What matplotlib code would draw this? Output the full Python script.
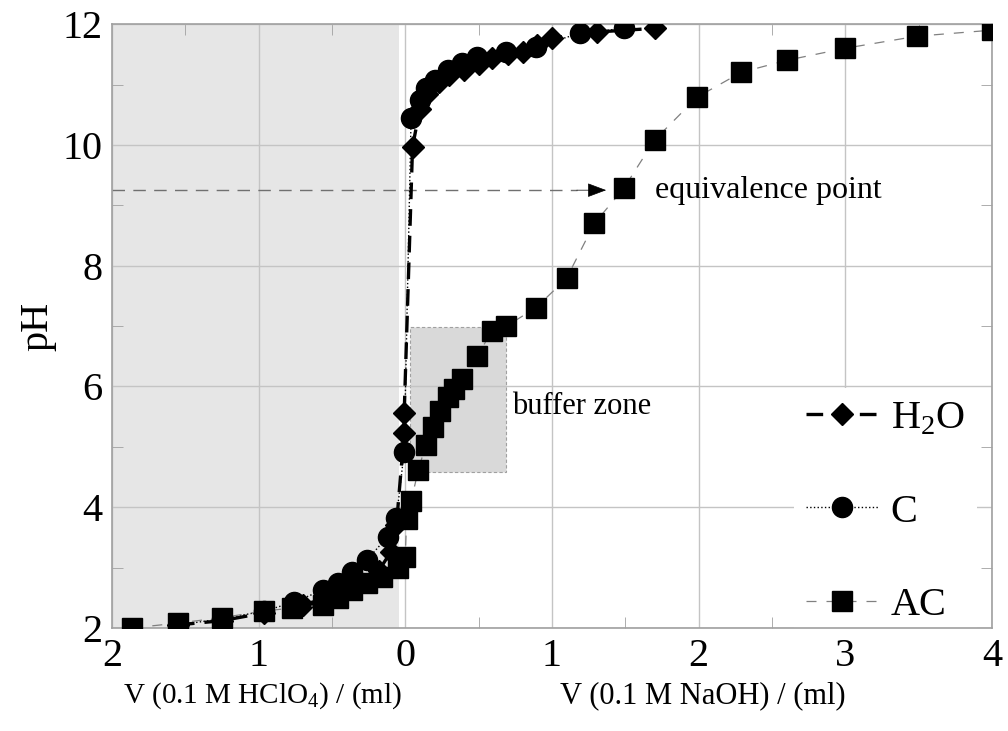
#titration curves: pH vs added volume, HClO4 to the left of zero, NaOH to the right
import numpy as np
import matplotlib.pyplot as plt
from matplotlib.patches import Rectangle

plt.rcParams['font.family'] = ['Liberation Serif', 'DejaVu Serif']
plt.rcParams['mathtext.fontset'] = 'custom'
plt.rcParams['mathtext.rm'] = 'Liberation Serif'

#=====================data===============
# x < 0 : ml of 0.1 M HClO4 , x > 0 : ml of 0.1 M NaOH
h2o_v  = [-1.55, -1.25, -0.96, -0.70, -0.50, -0.30, -0.18, -0.10, -0.06, -0.007, -0.007,
          0.05, 0.10, 0.15, 0.23, 0.30, 0.40, 0.50, 0.59, 0.70, 0.80, 0.90, 1.00, 1.31, 1.70]
h2o_ph = [2.05, 2.12, 2.25, 2.38, 2.52, 2.75, 2.95, 3.25, 3.70, 5.23, 5.56,
          9.97, 10.60, 10.85, 11.04, 11.15, 11.24, 11.34, 11.44, 11.50, 11.54, 11.65, 11.77, 11.87, 11.93]

c_v  = [-1.55, -1.25, -0.96, -0.755, -0.56, -0.46, -0.36, -0.26, -0.12, -0.06, -0.007,
        0.04, 0.10, 0.14, 0.20, 0.29, 0.39, 0.49, 0.69, 0.89, 1.19, 1.49]
c_ph = [2.05, 2.15, 2.28, 2.43, 2.63, 2.74, 2.93, 3.13, 3.51, 3.82, 4.92,
        10.45, 10.75, 10.95, 11.07, 11.24, 11.35, 11.45, 11.54, 11.62, 11.85, 11.93]

ac_v  = [-1.86, -1.55, -1.25, -0.96, -0.77, -0.56, -0.46, -0.36, -0.26, -0.16, -0.05, 0.0, 0.01,
         0.04, 0.09, 0.14, 0.19, 0.24, 0.29, 0.33, 0.39, 0.49, 0.59, 0.69, 0.89, 1.10, 1.29,
         1.49, 1.70, 1.99, 2.29, 2.60, 3.00, 3.49, 4.00]
ac_ph = [2.00, 2.08, 2.17, 2.28, 2.33, 2.38, 2.50, 2.63, 2.74, 2.85, 3.00, 3.18, 3.80,
         4.10, 4.62, 5.03, 5.33, 5.60, 5.83, 5.96, 6.12, 6.50, 6.91, 7.00, 7.30, 7.79, 8.70,
         9.28, 10.08, 10.79, 11.20, 11.40, 11.60, 11.80, 11.90]

x_ticks = [-2, -1, 0, 1, 2, 3, 4]
x_tick_labels = ['2', '1', '0', '1', '2', '3', '4']
y_ticks = [2, 4, 6, 8, 10, 12]

eq_ph = 9.25               # equivalence point
buffer_v = [0.03, 0.69]    # buffer zone, NaOH volume
buffer_ph = [4.58, 6.98]   # buffer zone, pH
acid_end = -0.04           # end of the acid side shading

#====================Plot=======================
fig = plt.figure(figsize=(10.08, 7.31), dpi=100)
ax = fig.add_axes([0.111, 0.141, 0.873, 0.826])
ax.set_xlim(-2, 4)
ax.set_ylim(2, 12)

# shaded regions
ax.axvspan(-2, acid_end, color='#e6e6e6', zorder=0, lw=0)
ax.add_patch(Rectangle((buffer_v[0], buffer_ph[0]), buffer_v[1] - buffer_v[0], buffer_ph[1] - buffer_ph[0],
                       facecolor='#d9d9d9', edgecolor='#a0a0a0', linestyle=(0, (3, 2)), lw=0.8, zorder=0.5))

ax.grid(True, color='#c4c4c4', lw=1.0)
ax.set_axisbelow(True)

ax.plot(c_v, c_ph, color='black', linestyle=':', lw=1.0, marker='o', markersize=14.5, label='C', zorder=3)
ax.plot(h2o_v, h2o_ph, color='black', linestyle=(0, (5, 3)), lw=2.4, marker='D', markersize=11,
        label='H$_2$O', zorder=4)
ax.plot(ac_v, ac_ph, color='#808080', linestyle=(0, (8, 8)), lw=0.9, marker='s', markersize=14.5,
        markerfacecolor='black', markeredgecolor='black', label='AC', zorder=5)

# equivalence point marker
ax.plot([-2, 1.17], [eq_ph, eq_ph], color='#707070', linestyle=(0, (9, 6)), lw=1.0, zorder=2)
ax.annotate('', xy=(1.37, eq_ph), xytext=(1.17, eq_ph),
            arrowprops=dict(arrowstyle='-|>,head_length=1.2,head_width=0.45', color='black', lw=0.5,
                            shrinkA=0, shrinkB=0), zorder=6)
ax.text(1.70, eq_ph, 'equivalence point', fontsize=23, ha='left', va='center')
ax.text(0.73, 5.67, 'buffer zone', fontsize=22, ha='left', va='center')

# ticks and spines
ax.set_xticks(x_ticks)
ax.set_xticklabels(x_tick_labels)
ax.set_yticks(y_ticks)
ax.set_xticks(np.arange(-1.5, 4, 1.0), minor=True)
ax.set_yticks(np.arange(3, 12, 2), minor=True)
ax.tick_params(which='both', direction='in', top=True, right=True, color='#a0a0a0',
               labelsize=29, pad=7)
ax.tick_params(which='major', length=0)
ax.tick_params(which='minor', length=8)
for s in ax.spines.values():
    s.set_color('#a0a0a0')
    s.set_linewidth(1.2)

ax.set_ylabel('pH', fontsize=29, labelpad=4)
fig.text(0.26, 0.048, 'V (0.1 M HClO$_4$) / (ml)', fontsize=21, ha='center', va='center')
fig.text(0.697, 0.048, 'V (0.1 M NaOH) / (ml)', fontsize=22, ha='center', va='center')

h, l = ax.get_legend_handles_labels()
order = [1, 0, 2]
leg = ax.legend([h[i] for i in order], [l[i] for i in order], loc='center',
                bbox_to_anchor=(0.879, 0.192), fontsize=29, frameon=True, framealpha=1,
                facecolor='white', edgecolor='none', handlelength=1.8, labelspacing=1.4,
                borderpad=0.3, handletextpad=0.3)
leg.set_zorder(2.2)

plt.savefig('out.png', dpi=100)
